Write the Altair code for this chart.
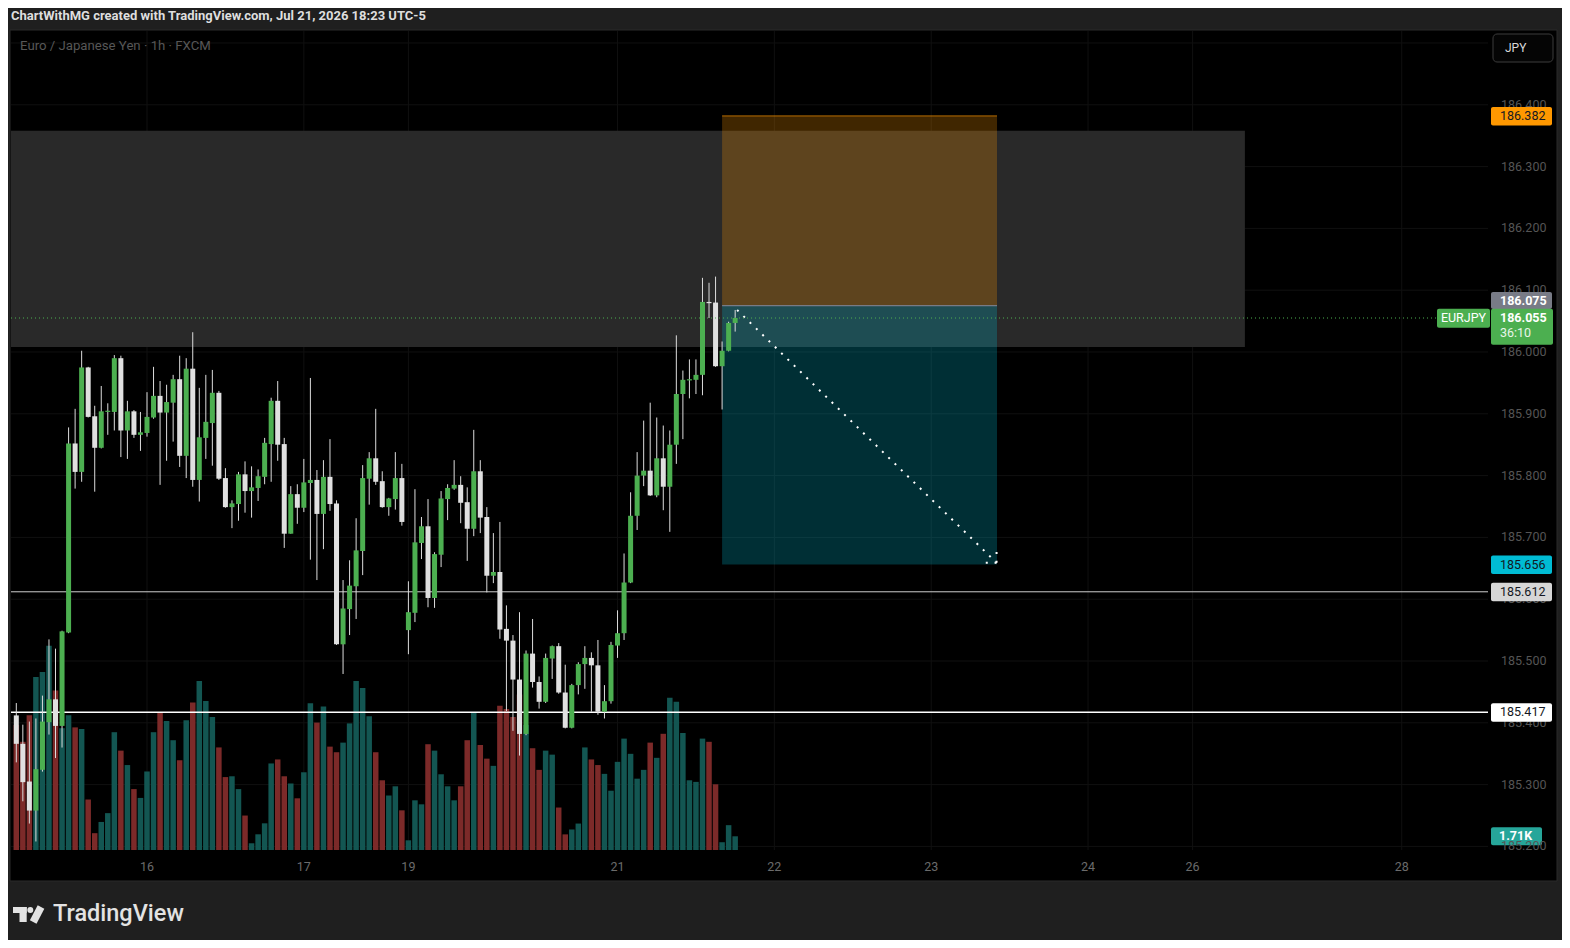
import altair as alt
import pandas as pd

FONT = "Roboto"

# ---------------- data ----------------
opens = [185.412, 185.366, 185.305, 185.258, 185.324, 185.401, 185.438, 185.395, 185.546, 185.852,
         185.806, 185.975, 185.896, 185.845, 185.903, 185.903, 185.990, 185.873, 185.904, 185.866,
         185.869, 185.894, 185.929, 185.902, 185.918, 185.956, 185.832, 185.973, 185.793, 185.861,
         185.885, 185.934, 185.796, 185.749, 185.754, 185.802, 185.775, 185.780, 185.798, 185.851,
         185.921, 185.851, 185.706, 185.770, 185.748, 185.788, 185.793, 185.738, 185.798, 185.755,
         185.527, 185.584, 185.621, 185.678, 185.795, 185.828, 185.791, 185.749, 185.762, 185.796,
         185.550, 185.578, 185.691, 185.718, 185.602, 185.672, 185.762, 185.779, 185.785, 185.757,
         185.714, 185.807, 185.733, 185.638, 185.644, 185.552, 185.533, 185.470, 185.382, 185.512,
         185.466, 185.434, 185.504, 185.524, 185.449, 185.392, 185.461, 185.495, 185.505, 185.493,
         185.418, 185.435, 185.525, 185.545, 185.627, 185.735, 185.800, 185.808, 185.768, 185.828,
         185.782, 185.850, 185.932, 185.954, 185.955, 185.963, 186.081, 186.080, 185.977, 186.002,
         186.047]
highs = [185.432, 185.397, 185.402, 185.407, 185.444, 185.535, 185.520, 185.549, 185.878, 185.908,
         186.002, 185.976, 185.913, 185.945, 185.917, 185.995, 185.994, 185.921, 185.906, 185.903,
         185.935, 185.976, 185.953, 185.947, 185.963, 185.994, 185.990, 186.032, 185.942, 185.963,
         185.971, 185.937, 185.812, 185.760, 185.806, 185.823, 185.815, 185.810, 185.861, 185.926,
         185.953, 185.861, 185.783, 185.786, 185.827, 185.958, 185.809, 185.825, 185.859, 185.760,
         185.631, 185.663, 185.731, 185.817, 185.838, 185.908, 185.807, 185.764, 185.838, 185.819,
         185.629, 185.778, 185.733, 185.762, 185.676, 185.775, 185.786, 185.825, 185.799, 185.781,
         185.874, 185.825, 185.749, 185.707, 185.725, 185.590, 185.542, 185.579, 185.517, 185.568,
         185.475, 185.512, 185.525, 185.529, 185.494, 185.463, 185.498, 185.524, 185.514, 185.534,
         185.461, 185.531, 185.582, 185.674, 185.773, 185.838, 185.889, 185.918, 185.894, 185.881,
         185.873, 186.027, 185.970, 185.988, 185.988, 186.120, 186.112, 186.122, 186.017, 186.049,
         186.068]
lows = [185.336, 185.273, 185.237, 185.208, 185.321, 185.381, 185.343, 185.360, 185.545, 185.779,
        185.790, 185.894, 185.774, 185.844, 185.866, 185.873, 185.830, 185.827, 185.861, 185.840,
        185.863, 185.892, 185.785, 185.824, 185.855, 185.814, 185.796, 185.782, 185.758, 185.827,
        185.816, 185.793, 185.748, 185.715, 185.727, 185.740, 185.732, 185.759, 185.786, 185.790,
        185.824, 185.683, 185.706, 185.722, 185.741, 185.664, 185.631, 185.681, 185.743, 185.526,
        185.479, 185.542, 185.568, 185.639, 185.753, 185.785, 185.748, 185.735, 185.745, 185.719,
        185.511, 185.563, 185.665, 185.587, 185.586, 185.652, 185.728, 185.777, 185.723, 185.662,
        185.702, 185.707, 185.611, 185.626, 185.536, 185.419, 185.387, 185.347, 185.380, 185.457,
        185.423, 185.432, 185.471, 185.447, 185.391, 185.391, 185.446, 185.455, 185.418, 185.413,
        185.407, 185.431, 185.505, 185.534, 185.626, 185.712, 185.783, 185.767, 185.765, 185.744,
        185.709, 185.819, 185.859, 185.925, 185.932, 185.930, 186.055, 185.976, 185.907, 186.001,
        186.033]
closes = [185.366, 185.304, 185.258, 185.325, 185.402, 185.438, 185.395, 185.548, 185.852, 185.806,
          185.975, 185.895, 185.845, 185.904, 185.905, 185.990, 185.873, 185.904, 185.866, 185.870,
          185.895, 185.929, 185.902, 185.919, 185.956, 185.832, 185.973, 185.793, 185.862, 185.887,
          185.934, 185.795, 185.749, 185.755, 185.802, 185.775, 185.781, 185.799, 185.853, 185.921,
          185.850, 185.706, 185.770, 185.748, 185.789, 185.793, 185.738, 185.798, 185.754, 185.527,
          185.585, 185.622, 185.679, 185.796, 185.828, 185.790, 185.749, 185.763, 185.796, 185.725,
          185.579, 185.692, 185.718, 185.602, 185.673, 185.763, 185.780, 185.785, 185.756, 185.714,
          185.807, 185.732, 185.638, 185.644, 185.551, 185.533, 185.470, 185.382, 185.512, 185.466,
          185.434, 185.505, 185.524, 185.449, 185.392, 185.461, 185.495, 185.505, 185.493, 185.418,
          185.435, 185.526, 185.545, 185.627, 185.735, 185.800, 185.808, 185.768, 185.828, 185.782,
          185.850, 185.932, 185.955, 185.956, 185.963, 186.081, 186.079, 185.977, 186.002, 186.047,
          186.055]
volumes = [15.6, 13.5, 16.8, 21.6, 22.2, 25.5, 19.9, 15.2, 16.8, 15.3,
           15.1, 6.3, 2.1, 3.5, 4.6, 14.7, 12.4, 10.6, 7.6, 6.5,
           9.8, 14.7, 17.2, 16.1, 13.7, 11.2, 16.2, 18.4, 21.1, 18.6,
           16.6, 12.8, 9.1, 9.2, 7.6, 4.3, 0.84, 1.96, 3.33, 10.8,
           11.3, 9.2, 8.3, 6.45, 9.7, 18.3, 15.9, 17.9, 12.9, 12.2,
           13.4, 15.8, 21.1, 20.2, 16.7, 12.2, 8.7, 6.8, 7.95, 4.95,
           1.21, 6.2, 5.7, 13.2, 12.4, 9.45, 7.95, 6.2, 7.95, 13.7,
           17.2, 13.1, 11.4, 10.5, 18.0, 17.6, 16.6, 19.4, 15.6, 12.7,
           10.0, 12.4, 11.9, 5.3, 1.95, 2.56, 3.3, 12.8, 11.3, 10.6,
           9.5, 7.4, 11.0, 13.9, 12.0, 8.9, 10.0, 13.4, 11.5, 14.5,
           19.0, 18.5, 14.6, 8.7, 8.5, 13.9, 13.5, 8.2, 0.97, 3.1,
           1.71]

price_ticks = [185.2, 185.3, 185.4, 185.5, 185.6, 185.7, 185.8, 185.9, 186.0, 186.1, 186.2, 186.3, 186.4]
price_tick_labels = ["185.200", "185.300", "185.400", "185.500", "185.600", "185.700", "185.800",
                     "185.900", "186.000", "186.100", "186.200", "186.300", "186.400"]
grid_prices = [185.2, 185.3, 185.4, 185.5, 185.6, 185.7, 185.8, 185.9, 186.0, 186.1, 186.2, 186.3, 186.4, 186.5]
date_tick_bars = [20, 44, 60, 92, 116, 140, 164, 180, 212]
date_tick_labels = ["16", "17", "19", "21", "22", "23", "24", "26", "28"]

zone_bars = [-3, 188]
zone_prices = [186.008, 186.358]
pos_bars = [108, 150.07]
pos_stop, pos_entry, pos_target = 186.382, 186.075, 185.656
level_lines = [185.612, 185.417]
current_price = 186.055
countdown = "36:10"
symbol = "EURJPY"
volume_label = "1.71K"
arrow_seg = ["main", "main", "w1", "w1", "w2", "w2"]
arrow_bars = [110.3, 150.0, 150.0, 147.9, 150.0, 150.0]
arrow_prices = [186.068, 185.659, 185.659, 185.659, 185.659, 185.680]

header = "ChartWithMG created with TradingView.com, Jul 21, 2026 18:23 UTC-5"
subtitle = "Euro / Japanese Yen · 1h · FXCM"

# ---------------- scales ----------------
X_DOMAIN = [-0.811, 225.2]
Y_DOMAIN = [185.1942, 186.5194]
V_DOMAIN = [0, 102.2]


def xq(f):
    return alt.X(f + ":Q", scale=alt.Scale(domain=X_DOMAIN, nice=False, zero=False, padding=0), axis=None)


def yq(f):
    return alt.Y(f + ":Q", scale=alt.Scale(domain=Y_DOMAIN, nice=False, zero=False, padding=0), axis=None)


def yv(f):
    return alt.Y(f + ":Q", scale=alt.Scale(domain=V_DOMAIN, nice=False, zero=False, padding=0),
                 axis=None, stack=None)


n = len(opens)
df = pd.DataFrame({"bar": list(range(n)), "open": opens, "high": highs, "low": lows,
                   "close": closes, "vol": volumes})
df["dir"] = ["up" if c >= o else "down" for o, c in zip(opens, closes)]

one = pd.DataFrame({"k": [0]})

# ---------------- background group ----------------
panel = alt.Chart(one).mark_rect(fill="#000000", stroke="#2b2b2b", strokeWidth=1).encode(
    x=alt.value(-1), x2=alt.value(1546), y=alt.value(-1), y2=alt.value(850))
grid_h = alt.Chart(pd.DataFrame({"p": grid_prices})).mark_rule(color="#101010", strokeWidth=1).encode(
    y=yq("p"), x=alt.value(0), x2=alt.value(1477))
grid_v = alt.Chart(pd.DataFrame({"bar": date_tick_bars})).mark_rule(color="#101010", strokeWidth=1).encode(
    x=xq("bar"), y=alt.value(0), y2=alt.value(819))
zone = alt.Chart(pd.DataFrame({"x0": [zone_bars[0]], "x1": [zone_bars[1]],
                               "y0": [zone_prices[0]], "y1": [zone_prices[1]]})).mark_rect(
    color="#292929", clip=True).encode(x=xq("x0"), x2="x1", y=yq("y0"), y2="y1")
pos_df = pd.DataFrame({"x0": [pos_bars[0]] * 2, "x1": [pos_bars[1]] * 2,
                       "y0": [pos_entry, pos_target], "y1": [pos_stop, pos_entry],
                       "kind": ["stop", "target"]})
pos_boxes = alt.Chart(pos_df).mark_rect(opacity=0.25).encode(
    x=xq("x0"), x2="x1", y=yq("y0"), y2="y1",
    color=alt.condition("datum.kind == 'stop'", alt.value("#ff9800"), alt.value("#00bcd4")))
entry_line = alt.Chart(pd.DataFrame({"x0": [pos_bars[0]], "x1": [pos_bars[1]], "p": [pos_entry]})).mark_rule(
    color="#787b86", strokeWidth=1.2).encode(x=xq("x0"), x2="x1", y=yq("p"))
stop_line = alt.Chart(pd.DataFrame({"x0": [pos_bars[0]], "x1": [pos_bars[1]], "p": [pos_stop]})).mark_rule(
    color="#ff9800", opacity=0.55, strokeWidth=1.2).encode(x=xq("x0"), x2="x1", y=yq("p"))

bg_group = alt.layer(panel, grid_h, grid_v, zone, pos_boxes, entry_line, stop_line)

# ---------------- volume group ----------------
vol_bars = alt.Chart(df).mark_bar(size=5.5).encode(
    x=xq("bar"), y=yv("vol"),
    color=alt.condition("datum.dir == 'up'", alt.value("#135652"), alt.value("#7c2a29")))
vol_last = pd.DataFrame({"v": [volumes[-1]], "t": [volume_label]})
vol_box = alt.Chart(vol_last).mark_rect(color="#26a69a", yOffset=-9, y2Offset=9, cornerRadius=2).encode(
    x=alt.value(1480), x2=alt.value(1531), y=yv("v"), y2="v")
vol_text = alt.Chart(vol_last).mark_text(align="left", baseline="middle", font=FONT, fontSize=12.5,
                                         fontWeight="bold", color="#ffffff").encode(
    x=alt.value(1488), y=yv("v"), text="t:N")
vol_group = alt.layer(vol_bars, vol_box, vol_text)

# ---------------- foreground group ----------------
line1 = alt.Chart(pd.DataFrame({"p": [level_lines[0]]})).mark_rule(color="#cfcfcf", strokeWidth=1).encode(
    y=yq("p"), x=alt.value(0), x2=alt.value(1477))
line2 = alt.Chart(pd.DataFrame({"p": [level_lines[1]]})).mark_rule(color="#ffffff", strokeWidth=1.5).encode(
    y=yq("p"), x=alt.value(0), x2=alt.value(1477))
wicks = alt.Chart(df).mark_rule(color="#dcdcdc", strokeWidth=1).encode(
    x=xq("bar"), y=yq("low"), y2="high")
bodies = alt.Chart(df).mark_bar(size=5).encode(
    x=xq("bar"), y=yq("open"), y2="close",
    color=alt.condition("datum.dir == 'up'", alt.value("#4caf50"), alt.value("#e0e0e0")))
arrow = alt.Chart(pd.DataFrame({"seg": arrow_seg, "bar": arrow_bars, "p": arrow_prices,
                                "o": list(range(len(arrow_bars)))})).mark_line(
    color="#ffffff", strokeWidth=2, strokeDash=[2, 6.8]).encode(
    x=xq("bar"), y=yq("p"), detail="seg:N", order="o:Q")
cur_line = alt.Chart(pd.DataFrame({"p": [current_price]})).mark_rule(
    color="#4caf50", strokeWidth=1, strokeDash=[1, 3]).encode(
    y=yq("p"), x=alt.value(0), x2=alt.value(1426))

price_labels = alt.Chart(pd.DataFrame({"p": price_ticks, "t": price_tick_labels})).mark_text(
    align="left", baseline="middle", font=FONT, fontSize=12.5, color="#555555").encode(
    x=alt.value(1490), y=yq("p"), text="t:N")
time_labels = alt.Chart(pd.DataFrame({"bar": date_tick_bars, "t": date_tick_labels})).mark_text(
    align="center", baseline="middle", font=FONT, fontSize=12.5, color="#6b6b6b").encode(
    x=xq("bar"), y=alt.value(836), text="t:N")

box_specs = [(pos_stop, "#ff9800", "#131722"), (pos_target, "#00bcd4", "#131722"),
             (level_lines[0], "#d6d6d6", "#131722"), (level_lines[1], "#ffffff", "#131722")]
boxes = []
for p, bg, fg in box_specs:
    d = pd.DataFrame({"p": [p], "t": ["%.3f" % p]})
    boxes.append(alt.Chart(d).mark_rect(color=bg, yOffset=-9, y2Offset=9.5, cornerRadius=2).encode(
        x=alt.value(1480), x2=alt.value(1541), y=yq("p"), y2="p"))
    boxes.append(alt.Chart(d).mark_text(align="left", baseline="middle", font=FONT, fontSize=12.5,
                                        color=fg).encode(x=alt.value(1489), y=yq("p"), text="t:N"))

entry_d = pd.DataFrame({"p": [pos_entry], "t": ["%.3f" % pos_entry]})
boxes.append(alt.Chart(entry_d).mark_rect(color="#787b86", yOffset=-13.6, y2Offset=3.4, cornerRadius=2).encode(
    x=alt.value(1480), x2=alt.value(1541), y=yq("p"), y2="p"))
boxes.append(alt.Chart(entry_d).mark_text(align="left", baseline="middle", font=FONT, fontSize=12.5,
                                          fontWeight="bold", color="#ffffff", dy=-5).encode(
    x=alt.value(1489), y=yq("p"), text="t:N"))

cur_d = pd.DataFrame({"p": [current_price], "t": ["%.3f" % current_price], "c": [countdown], "s": [symbol]})
boxes.append(alt.Chart(cur_d).mark_rect(color="#4caf50", yOffset=-9.3, y2Offset=26.7, cornerRadius=2).encode(
    x=alt.value(1480), x2=alt.value(1542), y=yq("p"), y2="p"))
boxes.append(alt.Chart(cur_d).mark_text(align="left", baseline="middle", font=FONT, fontSize=12.5,
                                        fontWeight="bold", color="#ffffff").encode(
    x=alt.value(1489), y=yq("p"), text="t:N"))
boxes.append(alt.Chart(cur_d).mark_text(align="left", baseline="middle", font=FONT, fontSize=12.5,
                                        color="#e8f5e9", dy=15).encode(
    x=alt.value(1489), y=yq("p"), text="c:N"))
boxes.append(alt.Chart(cur_d).mark_rect(color="#4caf50", yOffset=-9.3, y2Offset=9.7, cornerRadius=2).encode(
    x=alt.value(1426), x2=alt.value(1479), y=yq("p"), y2="p"))
boxes.append(alt.Chart(cur_d).mark_text(align="center", baseline="middle", font=FONT, fontSize=12.5,
                                        color="#ffffff").encode(
    x=alt.value(1452.5), y=yq("p"), text="s:N"))

# chrome: header, subtitle, currency button, logo
head = alt.Chart(pd.DataFrame({"t": [header]})).mark_text(
    align="left", baseline="middle", font=FONT, fontSize=13, fontWeight="bold", color="#dedede").encode(
    x=alt.value(0), y=alt.value(-15), text="t:N")
sub = alt.Chart(pd.DataFrame({"t": [subtitle]})).mark_text(
    align="left", baseline="middle", font=FONT, fontSize=13.2, color="#575757").encode(
    x=alt.value(9), y=alt.value(15), text="t:N")
jpy_btn = alt.Chart(one).mark_rect(fill="#050505", stroke="#3c3c3c", strokeWidth=1, cornerRadius=4).encode(
    x=alt.value(1482), x2=alt.value(1542), y=alt.value(3), y2=alt.value(31))
jpy_txt = alt.Chart(pd.DataFrame({"t": ["JPY"]})).mark_text(
    align="left", baseline="middle", font=FONT, fontSize=12, color="#d9d9d9").encode(
    x=alt.value(1494), y=alt.value(17), text="t:N")
logo_t1 = alt.Chart(one).mark_rect(color="#e3e3e3").encode(
    x=alt.value(2), x2=alt.value(15.7), y=alt.value(876), y2=alt.value(882))
logo_t2 = alt.Chart(one).mark_rect(color="#e3e3e3").encode(
    x=alt.value(8.5), x2=alt.value(15.7), y=alt.value(876), y2=alt.value(891))
logo_dot = alt.Chart(one).mark_point(filled=True, shape="circle", size=36, color="#e3e3e3", opacity=1).encode(
    x=alt.value(19.3), y=alt.value(879))
logo_slash = alt.Chart(one).mark_rule(color="#e3e3e3", strokeWidth=7.5, strokeCap="butt").encode(
    x=alt.value(30), x2=alt.value(22.2), y=alt.value(876), y2=alt.value(891))
logo_txt = alt.Chart(pd.DataFrame({"t": ["TradingView"]})).mark_text(
    align="left", baseline="middle", font=FONT, fontSize=23.5, fontWeight=500, color="#e3e3e3").encode(
    x=alt.value(42), y=alt.value(883), text="t:N")

fg_group = alt.layer(line1, line2, wicks, bodies, arrow, cur_line, price_labels, time_labels, *boxes,
                     head, sub, jpy_btn, jpy_txt, logo_t1, logo_t2, logo_dot, logo_slash, logo_txt)

chart = alt.layer(bg_group, vol_group, fg_group).resolve_scale(y="independent").properties(
    width=1477, height=819,
    autosize=alt.AutoSizeParams(type="none"),
    padding={"left": 3, "top": 23, "right": 74, "bottom": 90},
    background="#1f1f1f",
).configure_view(strokeWidth=0)

chart.save("out.html", embed_options={"renderer": "svg", "actions": False})
